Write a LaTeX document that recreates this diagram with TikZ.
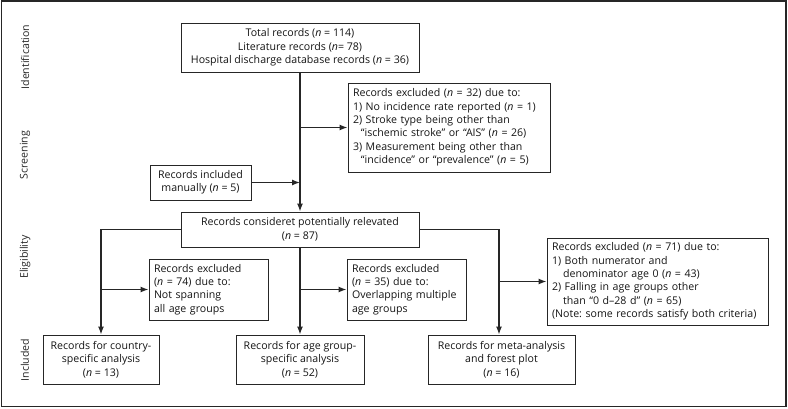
\documentclass[tikz,border=0pt]{standalone}
\usepackage{fontspec}
\setmainfont{Open Sans}
\usetikzlibrary{arrows.meta}
\newcommand{\fsz}{\fontsize{10.6}{13.4}\selectfont\frenchspacing}
\newcommand{\nn}{\textit{n}}
\begin{document}
\begin{tikzpicture}[x=1pt,y=-1pt,
  every node/.style={text=black!92},
  cbox/.style={draw=black!85, line width=1pt, font=\fsz, align=center, inner sep=0pt},
  lbox/.style={draw=black!85, line width=1pt, font=\fsz, align=left, inner ysep=0pt, inner xsep=5pt},
  conn/.style={draw=black!85, line width=1.2pt},
  arr/.style={conn, -{Latex[length=8pt,width=6pt]}},
  phase/.style={rotate=90, font=\fsz, text=black!85}
]
\useasboundingbox (0,0) rectangle (788,408);
\draw[black!85, line width=1.2pt] (1.5,1) rectangle (786,406.5);

\node[phase] (pid) at (25,57) {Identification};
\node[phase] (psc) at (25,155) {Screening};
\node[phase] (pel) at (25,257) {Eligibility};
\node[phase] (pin) at (25,360) {Included};

\node[cbox, minimum width=238pt, minimum height=49pt] (top) at (300,47.5)
  {Total records (\nn{} = 114)\\Literature records (\nn= 78)\\Hospital discharge database records (\nn{} = 36)};
\node[lbox, text width=192pt, minimum height=89pt] (ex1) at (449,127.5)
  {\mbox{Records excluded (\nn{} = 32) due to:}\\
   \mbox{1) No incidence rate reported (\nn{} = 1)}\\
   \mbox{2) Stroke type being other than}\\
   \mbox{\hspace*{0.75em}“ischemic stroke” or “AIS” (\nn{} = 26)}\\
   \mbox{3) Measurement being other than}\\
   \mbox{\hspace*{0.75em}“incidence” or “prevalence” (\nn{} = 5)}};
\node[cbox, minimum width=101pt, minimum height=35pt] (manual) at (200.5,182.5)
  {Records included\\manually (\nn{} = 5)};
\node[cbox, minimum width=238pt, minimum height=35pt] (consid) at (300,229.5)
  {Records consideret potentially relevated\\(\nn{} = 87)};
\node[lbox, text width=109pt, minimum height=61pt] (ex74) at (208.5,289.5)
  {\mbox{Records excluded}\\\mbox{(\nn{} = 74) due to:}\\\mbox{Not spanning}\\\mbox{all age groups}};
\node[lbox, text width=109pt, minimum height=61pt] (ex35) at (406.5,289.5)
  {\mbox{Records excluded}\\\mbox{(\nn{} = 35) due to:}\\\mbox{Overlapping multiple}\\\mbox{age groups}};
\node[lbox, text width=211pt, minimum height=87pt] (ex71) at (657.5,281.5)
  {\mbox{Records excluded (\nn{} = 71) due to:}\\
   \mbox{1) Both numerator and}\\
   \mbox{\hspace*{1.05em}denominator age 0 (\nn{} = 43)}\\
   \mbox{2) Falling in age groups other}\\
   \mbox{\hspace*{1.05em}than “0 d–28 d” (\nn{} = 65)}\\
   \mbox{(Note: some records satisfy both criteria)}};
\node[cbox, minimum width=116pt, minimum height=49pt] (country) at (101,359.5)
  {Records for country-\\specific analysis\\(\nn{} = 13)};
\node[cbox, minimum width=128pt, minimum height=49pt] (agegrp) at (300,359.5)
  {Records for age group-\\specific analysis\\(\nn{} = 52)};
\node[cbox, minimum width=147pt, minimum height=49pt] (meta) at (501.5,359.5)
  {Records for meta-analysis\\and forest plot\\(\nn{} = 16)};

\coordinate (mtop) at ([xshift=-2.5pt]meta.north);

\draw[arr] (top.south) -- (consid.north);
\draw[arr] (ex1.west -| top.south) -- (ex1.west);
\draw[arr] (manual.east) -- (manual.east -| top.south);
\draw[arr] (consid.west) -| (country.north);
\draw[arr] (consid.south) -- (agegrp.north);
\draw[arr] (consid.east) -| (mtop);
\draw[arr] (ex74.west -| country.north) -- (ex74.west);
\draw[arr] (ex35.west -| agegrp.north) -- (ex35.west);
\draw[arr] (ex71.west -| mtop) -- (ex71.west);
\end{tikzpicture}
\end{document}
